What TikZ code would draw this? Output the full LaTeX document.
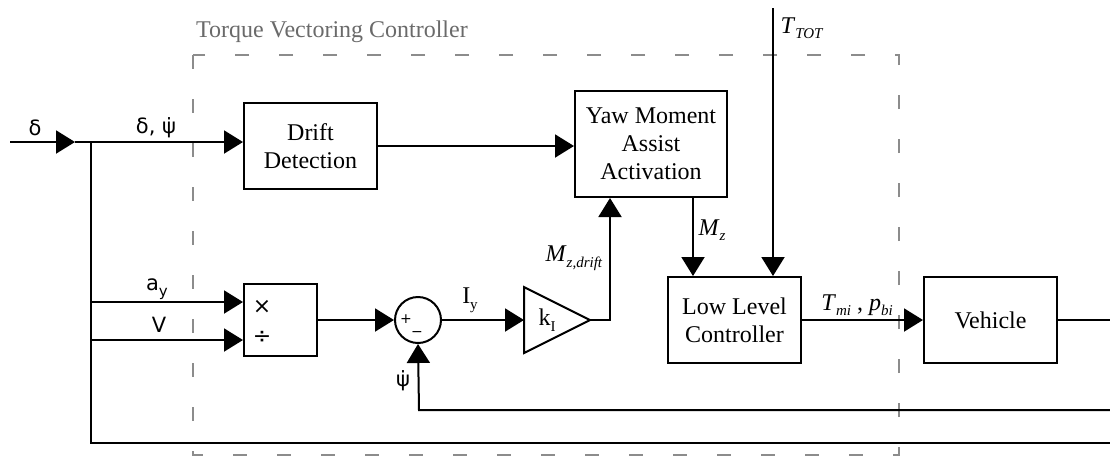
\documentclass[tikz,border=0pt]{standalone}
\usepackage{fontspec}
\setmainfont{Liberation Serif}
\newfontfamily\labelsans{DejaVu Sans}
\usetikzlibrary{arrows.meta}
\definecolor{framegray}{HTML}{8C8C8C}
\definecolor{titlegray}{HTML}{6A6A6A}
\newcommand\lowsub[1]{\raisebox{-0.5ex}{\fontsize{7.5}{8}\selectfont #1}}
\begin{document}
\begin{tikzpicture}[x=0.5pt,y=-0.5pt,
  line width=1pt,
  >={Triangle[length=9.5pt,width=11.5pt]},
  blockbox/.style={draw,line width=1pt,inner sep=0pt,align=center,
    font=\fontsize{12}{14}\selectfont},
  sig/.style={font=\labelsans\fontsize{10.5}{12}\selectfont,inner sep=0pt},
  mlabel/.style={font=\fontsize{12}{14}\selectfont,inner sep=0pt},
  frame/.style={draw=framegray,line width=1pt,dash pattern=on 7pt off 15pt}]
\useasboundingbox (0,0) rectangle (1110,457);

% controller frame and title
\draw[frame] (193,55) rectangle (899,455);
\node[mlabel,text=titlegray] (title) at (332,32) {Torque Vectoring Controller};

% blocks
\node[blockbox,minimum width=66.5pt,minimum height=43pt] (drift) at (310.5,146) {Drift\\Detection};
\node[blockbox,minimum width=76pt,minimum height=53pt] (yaw) at (651,144) {Yaw Moment\\Assist\\Activation};
\node[blockbox,minimum width=36.5pt,minimum height=36pt] (muldiv) at (280.5,320) {};
\node[sig,font=\labelsans\fontsize{11}{12}\selectfont] (times) at (262,307) {×};
\node[sig,font=\labelsans\fontsize{11}{12}\selectfont] (divide) at (262,337) {÷};
\node[draw,circle,line width=1pt,minimum size=23pt,inner sep=0pt] (sum) at (418,320) {};
\node[sig,font=\labelsans\fontsize{7}{8}\selectfont] (plus) at (406,319) {+};
\node[sig,font=\labelsans\fontsize{7}{8}\selectfont] (minus) at (417,334) {−};
\draw[line width=1pt] (524,287) -- (590,320) -- (524,353) -- cycle;
\node[mlabel] (gain) at (547,320) {k\lowsub{I}};
\coordinate (gin) at (524,320);
\coordinate (gout) at (590,320);
\node[blockbox,minimum width=66.5pt,minimum height=43pt] (llc) at (734.5,320) {Low Level\\Controller};
\node[blockbox,minimum width=66.5pt,minimum height=43pt] (vehicle) at (990.5,320) {Vehicle};

% signal coordinates
\coordinate (src) at (10,142);
\coordinate (port) at (75,142);
\coordinate (split) at (91,142);
\coordinate (splitay) at (91,302);
\coordinate (splitv) at (91,340);
\coordinate (splitbot) at (91,443);
\coordinate (outbot) at (1110,443);
\coordinate (gainturn) at (610,320);
\coordinate (ttot) at (773,8);
\coordinate (vout) at (1110,320);
\coordinate (fbin) at (1110,410);
\coordinate (fbturn) at (419,410);

% connectors
\draw[->] (src) -- (port);
\draw[->] (port) -- (drift.west |- split);
\draw (split) -- (splitbot) -- (outbot);
\draw[->] (splitay) -- (muldiv.west |- splitay);
\draw[->] (splitv) -- (muldiv.west |- splitv);
\draw[->] (drift.east) -- (yaw.west |- drift.east);
\draw[->] (muldiv.east) -- (sum.west);
\draw[->] (sum.east) -- (gin);
\draw[->] (gout) -- (gainturn) -- (gainturn |- yaw.south);
\draw[->] (yaw.south -| 693,0) -- (693,0 |- llc.north);
\draw[->] (ttot) -- (ttot |- llc.north);
\draw[->] (llc.east) -- (vehicle.west);
\draw (vehicle.east) -- (vout);
\draw[->] (fbin) -- (fbturn) -- (sum.south);

% signal labels
\node[sig] (ldelta) at (35,128) {δ};
\node[sig] (ldeltapsi) at (156,128) {δ, ψ̇};
\node[sig] (lay) at (157,289) {a\lowsub{\labelsans y}};
\node[sig] (lv) at (159,325) {V};
\node[sig] (lpsi) at (403,381) {ψ̇};
\node[mlabel] (liy) at (470,300) {I\lowsub{y}};
\node[mlabel] (lmzd) at (574,258) {\textit{M}\lowsub{\textit{z,drift}}};
\node[mlabel] (lmz) at (712,230) {\textit{M}\lowsub{\textit{z}}};
\node[mlabel] (lttot) at (802,28) {\textit{T}\lowsub{\textit{TOT}}};
\node[mlabel] (ltp) at (857,305) {\textit{T}\lowsub{\textit{mi}} , \textit{p}\lowsub{\textit{bi}}};
\end{tikzpicture}
\end{document}
